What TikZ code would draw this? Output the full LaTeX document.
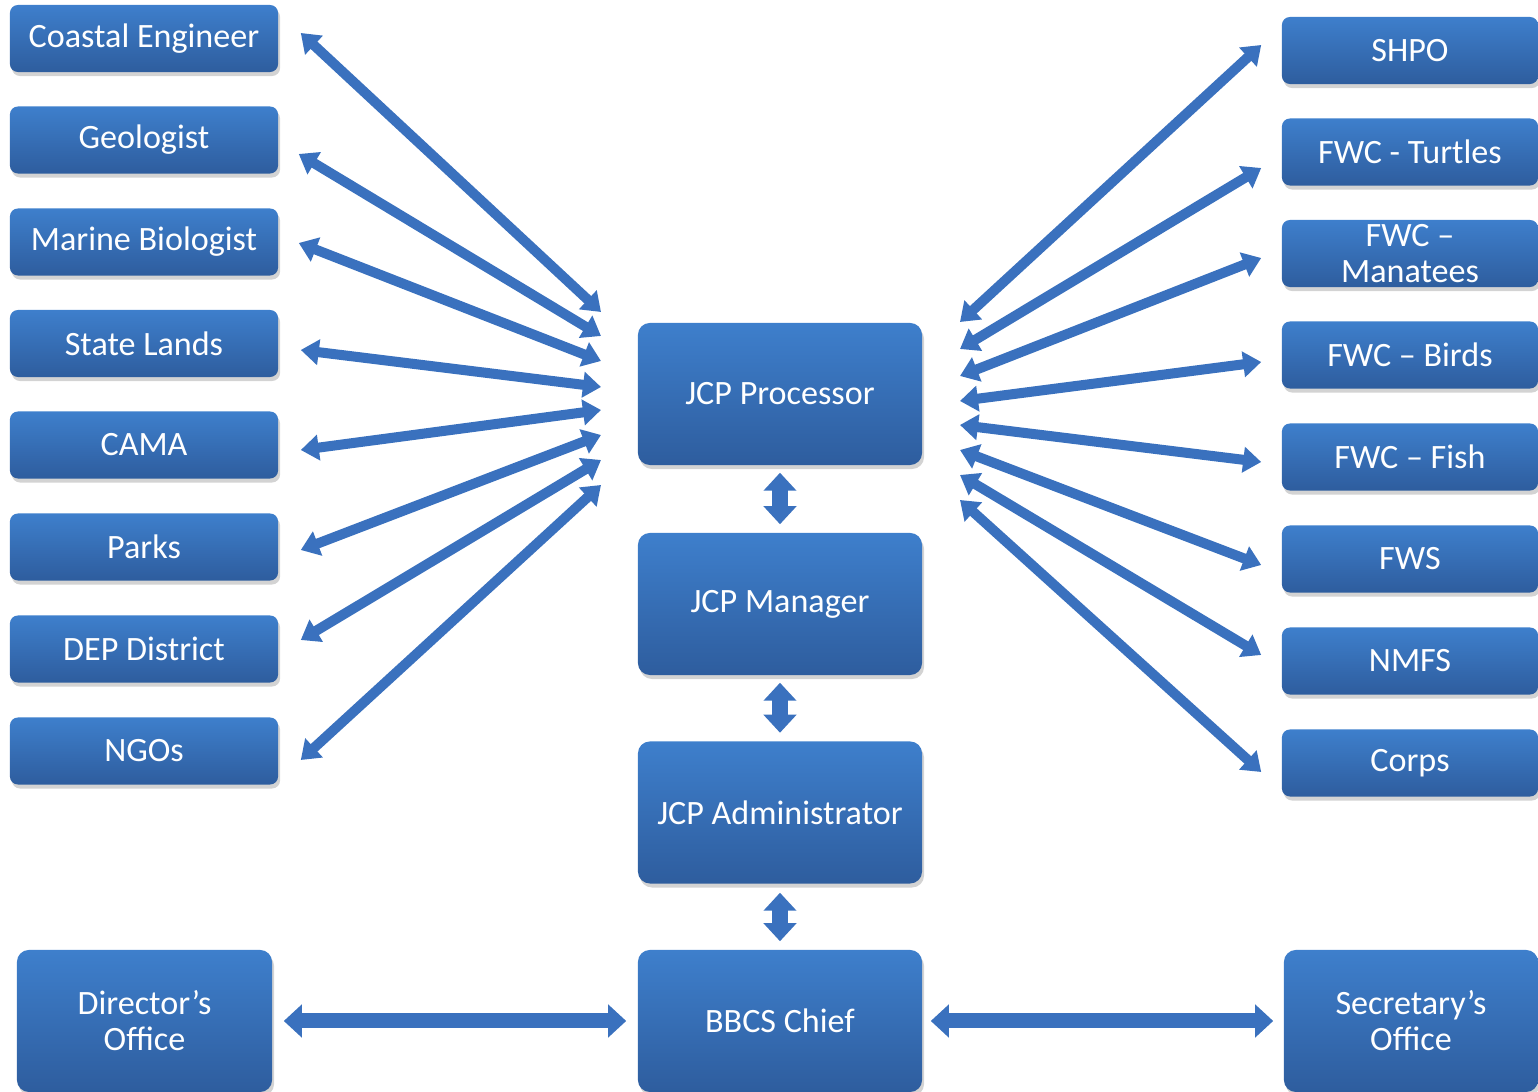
\documentclass[tikz,border=0pt]{standalone}
\usepackage{fontspec}
\setmainfont{Carlito}
\usetikzlibrary{arrows.meta,shadows}
\definecolor{boxtop}{RGB}{62,127,204}
\definecolor{boxbot}{RGB}{46,93,158}
\definecolor{arrowblue}{RGB}{58,113,190}
\tikzset{
  boxbase/.style={rounded corners=0.08cm, top color=boxtop, bottom color=boxbot, draw=none,
    text=white, align=center, font=\fontsize{9.7}{10.2}\selectfont,
    drop shadow={opacity=0.35, shadow xshift=0.02cm, shadow yshift=-0.04cm}},
  sidebox/.style={boxbase, minimum width=2.68cm, minimum height=0.67cm, inner sep=0pt},
  rightbox/.style={boxbase, minimum width=2.56cm, minimum height=0.67cm, inner sep=0pt},
  bigbox/.style={boxbase, rounded corners=0.12cm, minimum width=2.84cm, minimum height=1.42cm, inner sep=0pt},
  thinarrow/.style={line width=0.1cm, draw=arrowblue, {Triangle[width=0.25cm,length=0.18cm]}-{Triangle[width=0.25cm,length=0.18cm]}},
  thickarrow/.style={line width=0.15cm, draw=arrowblue, {Triangle[width=0.32cm,length=0.18cm]}-{Triangle[width=0.32cm,length=0.18cm]}}
}
\begin{document}
\begin{tikzpicture}[x=0.01cm,y=-0.01cm]
\useasboundingbox (0,0) rectangle (1538,1092);
% left boxes
\node[sidebox] (ce) at (144,38.5) {Coastal Engineer};
\node[sidebox] (geo) at (144,140) {Geologist};
\node[sidebox] (mb) at (144,242) {Marine Biologist};
\node[sidebox] (sl) at (144,343.5) {State Lands};
\node[sidebox] (cama) at (144,445) {CAMA};
\node[sidebox] (parks) at (144,547) {Parks};
\node[sidebox] (dep) at (144,649) {DEP District};
\node[sidebox] (ngo) at (144,751) {NGOs};
% right boxes
\node[rightbox] (shpo) at (1410,50.5) {SHPO};
\node[rightbox] (turt) at (1410,152) {FWC - Turtles};
\node[rightbox] (man) at (1410,253.5) {FWC –\\Manatees};
\node[rightbox] (birds) at (1410,355) {FWC – Birds};
\node[rightbox] (fish) at (1410,457) {FWC – Fish};
\node[rightbox] (fws) at (1410,559) {FWS};
\node[rightbox] (nmfs) at (1410,661) {NMFS};
\node[rightbox] (corps) at (1410,763) {Corps};
% center boxes
\node[bigbox] (proc) at (780,394) {JCP Processor};
\node[bigbox] (mgr) at (780,604) {JCP Manager};
\node[bigbox] (adm) at (780,812.5) {JCP Administrator};
\node[bigbox] (chief) at (780,1021) {BBCS Chief};
\node[bigbox, minimum width=2.55cm] (dir) at (144.5,1021) {Director’s\\Office};
\node[bigbox, minimum width=2.54cm] (sec) at (1411,1021) {Secretary’s\\Office};
% left arrow ends at processor
\coordinate (pl1) at (601,312);
\coordinate (pl2) at (601,336);
\coordinate (pl3) at (601,361);
\coordinate (pl4) at (601,387);
\coordinate (pl5) at (601,410);
\coordinate (pl6) at (601,435);
\coordinate (pl7) at (601,460);
\coordinate (pl8) at (601,485);
% right arrow ends at processor
\coordinate (pr1) at (960,322);
\coordinate (pr2) at (960,349);
\coordinate (pr3) at (960,376);
\coordinate (pr4) at (960,401);
\coordinate (pr5) at (960,425);
\coordinate (pr6) at (960,450);
\coordinate (pr7) at (960,475);
\coordinate (pr8) at (960,500);
% left arrows
\draw[thinarrow] ([xshift=0.22cm,yshift=0.055cm]ce.east) -- (pl1);
\draw[thinarrow] ([xshift=0.20cm,yshift=-0.14cm]geo.east) -- (pl2);
\draw[thinarrow] ([xshift=0.20cm,yshift=-0.01cm]mb.east) -- (pl3);
\draw[thinarrow] ([xshift=0.22cm,yshift=-0.065cm]sl.east) -- (pl4);
\draw[thinarrow] ([xshift=0.22cm,yshift=-0.05cm]cama.east) -- (pl5);
\draw[thinarrow] ([xshift=0.22cm,yshift=-0.03cm]parks.east) -- (pl6);
\draw[thinarrow] ([xshift=0.22cm,yshift=0.09cm]dep.east) -- (pl7);
\draw[thinarrow] ([xshift=0.22cm,yshift=-0.09cm]ngo.east) -- (pl8);
% right arrows
\draw[thinarrow] (pr1) -- ([xshift=-0.20cm,yshift=0.055cm]shpo.west);
\draw[thinarrow] (pr2) -- ([xshift=-0.20cm,yshift=-0.16cm]turt.west);
\draw[thinarrow] (pr3) -- ([xshift=-0.20cm,yshift=-0.045cm]man.west);
\draw[thinarrow] (pr4) -- ([xshift=-0.20cm,yshift=-0.07cm]birds.west);
\draw[thinarrow] (pr5) -- ([xshift=-0.20cm,yshift=-0.05cm]fish.west);
\draw[thinarrow] (pr6) -- ([xshift=-0.20cm,yshift=-0.06cm]fws.west);
\draw[thinarrow] (pr7) -- ([xshift=-0.20cm,yshift=0.06cm]nmfs.west);
\draw[thinarrow] (pr8) -- ([xshift=-0.20cm,yshift=-0.09cm]corps.west);
% vertical arrows
\draw[thickarrow] ([yshift=-0.07cm]proc.south) -- ([yshift=0.08cm]mgr.north);
\draw[thickarrow] ([yshift=-0.07cm]mgr.south) -- ([yshift=0.08cm]adm.north);
\draw[thickarrow] ([yshift=-0.085cm]adm.south) -- ([yshift=0.08cm]chief.north);
% horizontal arrows
\draw[thickarrow] ([xshift=0.11cm]dir.east) -- ([xshift=-0.11cm]chief.west);
\draw[thickarrow] ([xshift=0.08cm]chief.east) -- ([xshift=-0.10cm]sec.west);
\end{tikzpicture}
\end{document}
